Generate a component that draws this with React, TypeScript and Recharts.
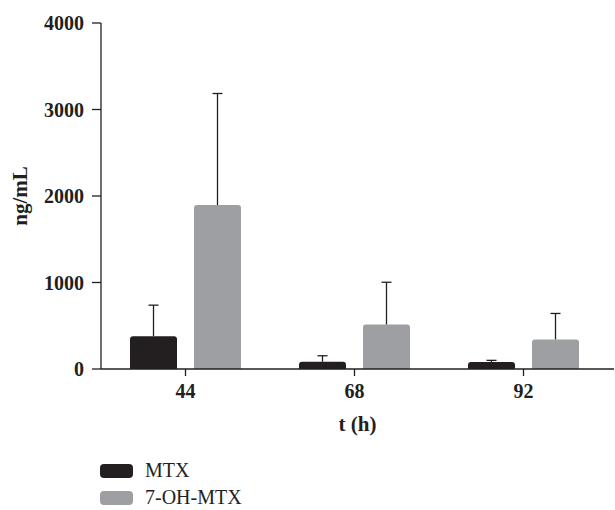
import React from 'react';
import { BarChart, Bar, XAxis, YAxis, Legend, Rectangle } from 'recharts';

const categories = ['44', '68', '92'];
const mtxValues = [380, 84, 80];
const mtxErrors = [358, 69, 20];
const ohMtxValues = [1895, 515, 342];
const ohMtxErrors = [1290, 488, 300];
const yTicks = [0, 1000, 2000, 3000, 4000];

const FONT = '"Liberation Serif", "DejaVu Serif", serif';
const INK = '#231f20';
const MTX_COLOR = '#231f20';
const OH_COLOR = '#9d9fa3';

const data = categories.map((c, i) => ({
  cat: c,
  mtx: mtxValues[i],
  mtxErr: mtxErrors[i],
  oh: ohMtxValues[i],
  ohErr: ohMtxErrors[i],
}));

const seriesOrder = ['MTX', '7-OH-MTX'];

const makeShape = (errKey: string) => (props: any) => {
  const { x, y, width, height, fill, payload, value } = props;
  const v = Array.isArray(value) ? value[1] - value[0] : value;
  const pxPerUnit = v ? height / v : 0;
  const err = payload[errKey] || 0;
  const cx = x + width / 2;
  const yTop = y - err * pxPerUnit;
  return (
    <g>
      <Rectangle x={x} y={y} width={width} height={height} fill={fill} radius={[3, 3, 0, 0]} />
      <line x1={cx} x2={cx} y1={y} y2={yTop} stroke={INK} strokeWidth={1.3} />
      <line x1={cx - 5} x2={cx + 5} y1={yTop} y2={yTop} stroke={INK} strokeWidth={1.3} />
    </g>
  );
};

const renderLegend = (props: any) => {
  const items = [...(props.payload || [])].sort(
    (a: any, b: any) => seriesOrder.indexOf(a.value) - seriesOrder.indexOf(b.value)
  );
  return (
    <div>
      {items.map((p: any) => (
        <div key={p.value} style={{ display: 'flex', alignItems: 'center', height: 27 }}>
          <div style={{ width: 33, height: 14, borderRadius: 4, background: p.color, marginRight: 12 }} />
          <span style={{ fontFamily: FONT, fontSize: 20, color: INK }}>{p.value}</span>
        </div>
      ))}
    </div>
  );
};

const YLabel = (props: any) => {
  const vb = props.viewBox || {};
  const x = vb.x + 20;
  const y = vb.y + vb.height / 2;
  return (
    <text
      x={x}
      y={y}
      transform={`rotate(-90 ${x} ${y})`}
      textAnchor="middle"
      dominantBaseline="central"
      fontFamily={FONT}
      fontSize={21}
      fontWeight="bold"
      fill={INK}
    >
      ng/mL
    </text>
  );
};

export default function App() {
  return (
    <div style={{ position: 'absolute', left: 0, top: 0 }}>
      <BarChart
        width={615}
        height={510}
        data={data}
        margin={{ top: 23, right: 1, bottom: 79, left: 0 }}
        barSize={47}
        barGap={17}
      >
        <XAxis
          dataKey="cat"
          height={62}
          padding={{ left: 0, right: 6 }}
          tickSize={7}
          tickMargin={8}
          axisLine={{ stroke: INK, strokeWidth: 1.3 }}
          tickLine={{ stroke: INK, strokeWidth: 1.3 }}
          tick={{ fontFamily: FONT, fontSize: 20, fontWeight: 'bold', fill: INK }}
          label={{
            value: 't (h)',
            position: 'insideBottom',
            offset: 0,
            fontFamily: FONT,
            fontSize: 21,
            fontWeight: 'bold',
            fill: INK,
          }}
        />
        <YAxis
          width={101}
          domain={[0, 4000]}
          ticks={yTicks}
          interval={0}
          tickSize={9}
          tickMargin={8}
          axisLine={{ stroke: INK, strokeWidth: 1.3 }}
          tickLine={{ stroke: INK, strokeWidth: 1.3 }}
          tick={{ fontFamily: FONT, fontSize: 20, fontWeight: 'bold', fill: INK }}
          label={<YLabel />}
        />
        <Legend
          layout="vertical"
          align="center"
          verticalAlign="middle"
          content={renderLegend}
          wrapperStyle={{ top: 457, left: 100, width: 'auto', height: 'auto' }}
        />
        <Bar dataKey="mtx" name="MTX" fill={MTX_COLOR} isAnimationActive={false} shape={makeShape('mtxErr')} />
        <Bar dataKey="oh" name="7-OH-MTX" fill={OH_COLOR} isAnimationActive={false} shape={makeShape('ohErr')} />
      </BarChart>
    </div>
  );
}
